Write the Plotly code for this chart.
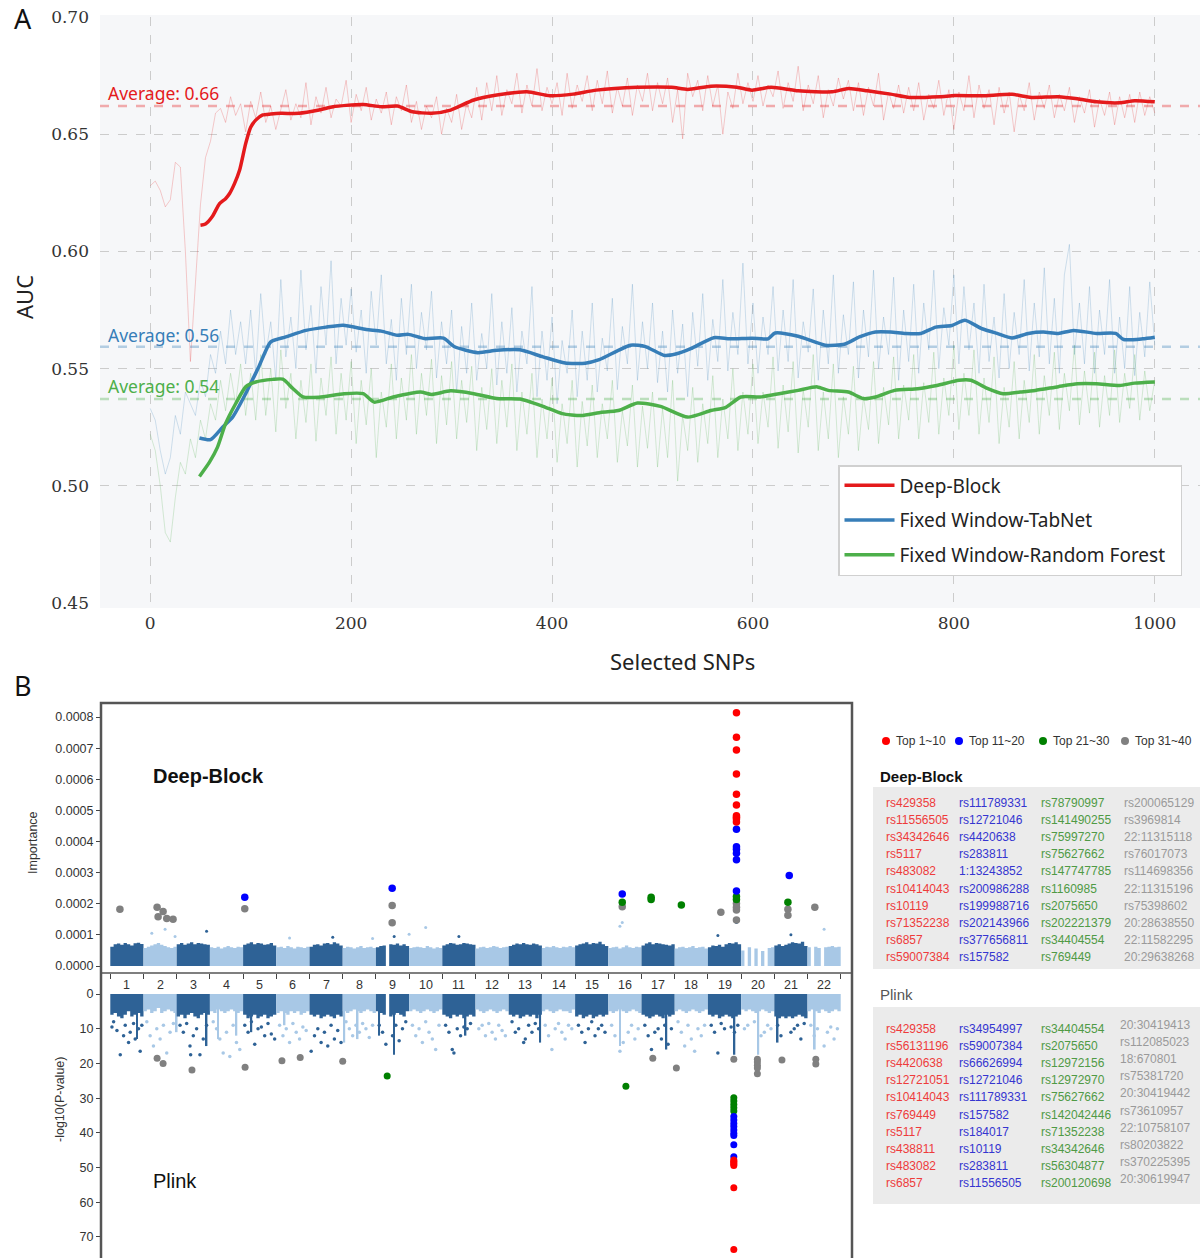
import plotly.graph_objects as go

W, H = 1200, 1258
def px(x): return x / W
def py(y): return 1 - y / H

# ---------------- Panel A data ----------------
RED, BLUE, GREEN = "#e41a1c", "#377eb8", "#4daf4a"

red_raw = [.628,.630,.626,.619,.622,.638,.636,.600,.553,.585,.620,.640,.647,.659,.661,.655,.666,.658,.663,.651,
           .664,.657,.668,.655,.662,.652,.660,.669,.656,.663,.657,.672,.654,.666,.659,.670,.657,.665,.662,.673,
           .655,.667,.660,.670,.656,.665,.659,.668,.654,.666,.660,.671,.655,.664,.652,.662,.657,.666,.650,.661,
           .655,.667,.652,.663,.657,.670,.656,.672,.660,.675,.658,.669,.663,.676,.659,.671,.662,.678,.660,.670,
           .663,.672,.658,.676,.661,.671,.664,.675,.660,.673,.663,.677,.659,.670,.662,.674,.658,.671,.664,.676,
           .660,.672,.663,.674,.655,.669,.648,.676,.666,.673,.660,.675,.662,.671,.650,.668,.661,.676,.663,.672,
           .664,.675,.662,.671,.666,.677,.661,.672,.664,.679,.660,.671,.663,.675,.657,.669,.662,.674,.665,.673,
           .660,.672,.658,.670,.662,.676,.656,.668,.661,.671,.659,.670,.660,.672,.656,.667,.661,.673,.658,.669,
           .652,.668,.660,.675,.657,.671,.661,.669,.654,.670,.659,.668,.651,.667,.660,.672,.656,.668,.661,.671,
           .657,.667,.660,.670,.655,.666,.659,.669,.653,.665,.658,.668,.654,.666,.657,.667,.655,.668,.658,.666,.659]
blue_raw = [.533,.528,.515,.505,.512,.530,.522,.540,.535,.530,.545,.538,.556,.548,.566,.552,.575,.556,.570,.552,
            .575,.548,.582,.556,.570,.545,.588,.555,.572,.550,.592,.558,.577,.548,.585,.560,.596,.552,.580,.560,
            .584,.557,.575,.548,.583,.560,.590,.552,.571,.545,.580,.556,.586,.550,.574,.558,.583,.546,.570,.552,
            .575,.540,.568,.548,.578,.545,.565,.550,.582,.543,.570,.548,.576,.540,.566,.552,.585,.538,.566,.545,
            .572,.535,.562,.548,.575,.538,.566,.545,.578,.540,.563,.549,.580,.541,.568,.552,.586,.545,.570,.550,
            .578,.544,.566,.540,.575,.548,.569,.538,.574,.551,.582,.545,.571,.553,.588,.549,.574,.556,.595,.552,
            .578,.548,.572,.556,.585,.549,.575,.553,.588,.546,.570,.557,.584,.545,.575,.552,.590,.548,.573,.556,
            .587,.546,.575,.555,.592,.550,.572,.556,.589,.545,.575,.553,.586,.548,.578,.558,.592,.550,.576,.560,
            .590,.552,.585,.558,.578,.548,.586,.553,.572,.546,.582,.550,.574,.556,.588,.549,.578,.555,.593,.552,
            .580,.548,.590,.603,.556,.578,.552,.585,.548,.575,.556,.588,.548,.572,.550,.585,.547,.574,.555,.587,.560]
green_raw = [.522,.515,.500,.480,.476,.495,.510,.505,.520,.512,.528,.520,.535,.528,.545,.532,.548,.535,.552,.530,
             .548,.528,.556,.530,.550,.523,.558,.533,.548,.520,.545,.527,.552,.519,.546,.530,.555,.522,.548,.528,
             .553,.518,.545,.526,.550,.512,.540,.525,.552,.520,.546,.528,.556,.522,.548,.530,.554,.518,.547,.526,
             .553,.520,.545,.527,.551,.515,.542,.524,.550,.518,.545,.525,.552,.515,.540,.522,.548,.512,.537,.520,
             .546,.510,.535,.518,.545,.508,.536,.517,.543,.512,.535,.520,.545,.510,.532,.517,.543,.508,.534,.516,
             .540,.508,.533,.512,.545,.502,.530,.515,.542,.510,.535,.518,.547,.512,.537,.520,.550,.515,.540,.522,
             .552,.518,.540,.525,.555,.516,.543,.523,.553,.514,.541,.525,.556,.515,.540,.520,.552,.512,.538,.522,
             .551,.515,.538,.524,.553,.518,.542,.526,.555,.520,.543,.528,.556,.520,.544,.527,.557,.522,.546,.530,
             .560,.524,.548,.530,.558,.522,.546,.527,.555,.518,.542,.525,.553,.520,.545,.527,.556,.522,.547,.530,
             .557,.524,.548,.532,.560,.526,.549,.531,.557,.525,.547,.530,.558,.527,.548,.533,.556,.528,.549,.532,.545]
raw_step = 5

red_sx = [50,55,62,69,75,79,84,89,95,100,105,112,120,130,148,168,182,195,212,230,246,261,280,299,322,345,375,398,421,444,
          485,519,535,558,584,599,618,645,679,695,714,737,756,786,801,828,858,877,904,923,942,965,980,1000]
red_sy = [.6112,.6117,.6150,.6204,.6225,.6247,.6290,.6347,.6460,.6530,.6560,.6582,.6586,.6589,.6589,.6603,.6617,.6623,.6627,.6617,
          .6620,.6596,.6589,.6603,.6646,.6667,.6681,.6664,.6671,.6688,.6700,.6700,.6691,.6705,.6700,.6688,.6700,.6685,.6681,.6695,
          .6685,.6671,.6657,.6660,.6665,.6664,.6670,.6657,.6660,.6651,.6638,.6634,.6643,.6638]
blue_sx = [49,60,72,82,95,108,120,135,155,175,192,215,230,246,257,273,292,303,326,345,368,391,413,433,447,478,493,512,523,538,
           561,577,599,615,622,645,672,691,706,722,737,752,767,782,798,811,828,843,858,874,889,904,919,942,961,969,988,1000]
blue_sy = [.5204,.5197,.5250,.5293,.5393,.5507,.5614,.5635,.5663,.5677,.5685,.5667,.5660,.5642,.5646,.5628,.5630,.5593,.5568,.5578,
           .5580,.5550,.5524,.5523,.5538,.5600,.5594,.5556,.5562,.5585,.5632,.5627,.5630,.5627,.5652,.5638,.5600,.5604,.5635,.5656,
           .5656,.5650,.5650,.5677,.5684,.5706,.5670,.5650,.5631,.5650,.5656,.5650,.5663,.5650,.5650,.5624,.5627,.5634]
green_sx = [49,59,67,75,85,95,105,122,132,142,152,168,193,212,223,242,269,280,299,322,345,368,391,410,429,447,466,485,508,535,
            558,573,588,607,626,645,664,675,695,710,722,741,764,783,805,817,832,849,866,881,904,923,942,965,980,1000]
green_sy = [.5040,.5101,.5165,.5265,.5350,.5422,.5443,.5454,.5455,.5415,.5379,.5378,.5393,.5393,.5357,.5379,.5400,.5390,.5405,.5393,
            .5372,.5370,.5339,.5308,.5300,.5312,.5321,.5353,.5339,.5293,.5321,.5335,.5379,.5379,.5393,.5407,.5422,.5407,.5400,.5372,
            .5379,.5407,.5414,.5428,.5450,.5450,.5418,.5393,.5400,.5407,.5423,.5435,.5435,.5428,.5438,.5443]

series_names = ["Deep-Block", "Fixed Window-TabNet", "Fixed Window-Random Forest"]
averages = [0.662, 0.5593, 0.5370]
avg_labels = ["Average: 0.66", "Average: 0.56", "Average: 0.54"]
avg_label_y = [0.6675, 0.5642, 0.5424]
a_xticks = [0, 200, 400, 600, 800, 1000]
a_yticks = [0.45, 0.50, 0.55, 0.60, 0.65, 0.70]

# ---------------- Panel B data ----------------
chromosomes = list(range(1, 23))
DARK, LIGHT = "#2e6296", "#a8c8e6"
# importance envelope (units of 1e-6), 10 bins per chromosome
imp_env = {
 1:[62,70,72,68,74,70,66,73,75,71], 2:[58,62,66,70,74,68,64,60,58,62], 3:[70,74,68,72,76,70,74,72,70,68],
 4:[60,58,62,56,60,64,60,58,62,60], 5:[68,72,76,70,74,72,68,70,74,66], 6:[60,62,58,64,60,56,62,60,58,62],
 7:[62,68,70,66,72,74,70,76,72,66], 8:[58,62,60,56,60,64,58,60,62,58], 9:[60,64,66,0,70,68,72,66,70,64],
 10:[58,60,62,60,58,64,60,56,60,58], 11:[66,70,74,72,68,70,74,72,70,68], 12:[56,60,62,58,60,64,62,58,60,62],
 13:[64,68,72,70,74,70,68,72,70,66], 14:[58,62,60,64,60,58,62,60,64,60], 15:[66,70,72,76,70,74,72,78,70,64],
 16:[58,60,62,56,60,66,60,58,62,60], 17:[66,72,76,70,74,72,70,68,66,70], 18:[56,60,62,58,60,64,58,60,62,56],
 19:[60,66,64,68,62,70,74,72,76,70], 20:[50,0,60,0,56,0,48,0,58,60], 21:[66,70,64,68,72,76,74,72,78,64],
 22:[60,0,62,58,0,60,62,64,60,62]}
imp_dots_x = [1.75,2.15,2.45,3.4,5.9,7.2,8.4,9.05,9.5,10.0,11.0,15.85,15.92,18.8,19.36,21.0,22.0]
imp_dots_y = [105,118,95,112,90,92,88,95,102,124,95,128,140,98,140,100,118]

imp_top1_x = [19.36]*10
imp_top1_y = [814,735,694,617,552,517,483,478,472,463]
imp_top2_x = [4.55,8.99,15.92,19.36,19.36,19.36,19.36,19.36,19.36,20.95]
imp_top2_y = [221,250,231,439,383,375,362,341,241,291]
imp_top3_x = [15.92,16.79,16.79,17.7,19.36,19.36,20.91]
imp_top3_y = [205,221,214,196,223,214,205]
imp_top4_x = [0.79,1.91,2.09,1.94,2.20,2.39,4.55,8.99,8.99,15.92,18.89,19.36,19.36,19.36,19.36,20.91,20.91,21.72]
imp_top4_y = [182,189,175,158,153,150,184,194,139,190,173,201,189,180,148,182,163,189]

# plink envelope (-log10 p), 10 bins per chromosome
pl_env = {
 1:[6.0,5.5,6.5,7.0,6.0,5.0,6.5,6.0,5.5,6.5], 2:[5.0,4.5,5.5,5.0,4.0,5.5,5.0,4.5,5.0,5.5],
 3:[6.5,6.0,7.0,6.0,5.5,6.5,7.0,6.0,5.5,6.0], 4:[5.0,5.5,4.5,5.0,5.5,5.0,4.5,5.0,5.5,5.0],
 5:[6.0,7.0,6.5,6.0,7.0,6.5,6.0,7.0,6.5,6.0], 6:[5.5,5.0,5.5,6.0,5.0,5.5,5.0,6.0,5.5,5.0],
 7:[6.0,6.5,6.0,7.0,6.5,6.0,6.5,7.0,6.0,6.5], 8:[5.0,5.5,5.0,4.5,5.0,5.5,5.0,4.5,5.0,5.5],
 9:[5.0,5.5,6.0,0.0,6.5,6.0,5.5,6.0,6.5,5.0], 10:[5.0,4.5,5.0,5.5,5.0,4.5,5.0,5.5,5.0,4.5],
 11:[6.0,6.5,7.0,6.0,6.5,6.0,7.0,6.5,6.0,6.5], 12:[4.5,5.0,5.5,5.0,4.5,5.0,5.5,5.0,4.5,5.0],
 13:[6.0,6.5,6.0,7.0,6.5,6.0,6.5,6.0,7.0,6.0], 14:[5.0,4.5,5.0,5.5,5.0,4.5,5.0,5.0,5.5,4.5],
 15:[6.5,6.0,7.0,6.5,6.0,7.0,6.5,6.0,6.5,6.0], 16:[5.0,5.5,5.0,4.5,5.0,5.5,5.0,4.5,5.0,5.5],
 17:[6.0,6.5,7.0,6.5,6.0,6.5,7.0,6.0,6.5,6.0], 18:[5.0,4.5,5.0,5.5,5.0,4.5,5.0,5.5,5.0,4.5],
 19:[6.0,6.5,6.0,7.0,6.5,6.0,6.5,7.0,6.5,6.0], 20:[4.5,5.0,4.5,5.0,5.5,5.0,4.5,5.0,5.5,5.0],
 21:[6.5,7.0,6.5,7.0,6.5,7.0,6.5,6.0,6.5,7.0], 22:[5.0,4.5,5.0,5.5,4.5,5.0,5.5,5.0,4.5,5.0]}
pl_dots = {
 1:[(0.05,9.5),(0.1,8),(0.2,10.5),(0.3,17.5),(0.4,12),(0.45,9),(0.55,14),(0.6,11),(0.7,8.5),(0.75,13),(0.85,10),(0.9,16.5),(0.95,9)],
 2:[(0.1,8),(0.2,12),(0.3,15),(0.4,10),(0.5,13),(0.6,9),(0.7,17),(0.8,11),(0.9,8.5)],
 3:[(0.1,9),(0.2,11),(0.3,8.5),(0.4,15),(0.42,17.5),(0.5,12),(0.6,10),(0.7,17.5),(0.8,13),(0.9,9)],
 4:[(0.1,8),(0.2,10),(0.3,13),(0.4,17),(0.5,11),(0.6,18),(0.7,9),(0.8,14),(0.9,16)],
 5:[(0.05,9),(0.15,11),(0.25,8),(0.35,14.5),(0.45,10),(0.55,9.5),(0.65,12),(0.75,8.5),(0.85,11.5),(0.95,13)],
 6:[(0.1,9),(0.2,12),(0.3,10),(0.4,14),(0.5,8.5),(0.6,11),(0.7,13),(0.8,9.5),(0.9,10.5)],
 7:[(0.05,16.5),(0.15,12),(0.25,10),(0.35,14),(0.45,11),(0.55,15),(0.65,9),(0.75,13),(0.85,10.5),(0.95,14)],
 8:[(0.1,8),(0.2,10),(0.3,12),(0.4,9),(0.5,11),(0.6,8.5),(0.7,10),(0.8,12.5),(0.9,9)],
 9:[(0.1,9),(0.2,11),(0.3,14.5),(0.5,12),(0.6,9),(0.7,13.5),(0.8,10),(0.9,8)],
 10:[(0.1,9),(0.2,12),(0.3,10),(0.4,14),(0.5,8),(0.6,11),(0.7,13),(0.8,16),(0.9,9)],
 11:[(0.1,9),(0.2,11),(0.3,16),(0.35,17),(0.45,10),(0.55,12),(0.65,9.5),(0.75,10),(0.85,8.5)],
 12:[(0.1,10),(0.2,9),(0.3,12),(0.4,8.5),(0.5,11),(0.6,13),(0.7,9),(0.8,10.5),(0.9,12)],
 13:[(0.1,8),(0.2,11),(0.3,10),(0.45,14),(0.5,13),(0.6,9),(0.7,11),(0.8,8.5),(0.9,10)],
 14:[(0.1,9),(0.2,12),(0.3,16),(0.4,10),(0.5,8.5),(0.6,11),(0.7,13),(0.8,9),(0.9,10)],
 15:[(0.1,9),(0.2,11),(0.3,14),(0.4,10),(0.5,8),(0.6,12),(0.7,10),(0.8,9),(0.9,11)],
 16:[(0.1,9),(0.2,12),(0.35,16.5),(0.45,14),(0.6,11),(0.7,9),(0.8,13),(0.9,10)],
 17:[(0.1,9),(0.2,12),(0.3,16),(0.4,11),(0.5,10),(0.6,13),(0.7,9),(0.8,14.5),(0.9,10)],
 18:[(0.1,8),(0.2,11),(0.3,15),(0.4,9),(0.5,13),(0.6,16.5),(0.7,10),(0.8,12),(0.9,9)],
 19:[(0.1,9),(0.2,11),(0.3,17),(0.4,8.5),(0.5,10),(0.7,9.5),(0.8,11),(0.9,9)],
 20:[(0.1,10),(0.2,9),(0.4,8),(0.6,12),(0.7,11),(0.8,9),(0.9,10)],
 21:[(0.1,9),(0.2,12),(0.5,11),(0.6,10),(0.7,9),(0.8,13),(0.9,8.5)],
 22:[(0.1,9),(0.2,12),(0.3,10),(0.5,15),(0.6,11),(0.7,9.5),(0.8,13),(0.9,10)]}
pl_spikes_x = [1.3,2.5,3.4,3.75,4.3,4.75,5.75,7.55,7.95,8.6,9.05,11.2,13.45,15.85,17.25,19.3,20.02,20.6,21.72]
pl_spikes_y = [13,11,15,13,12,11,9,14,13,12,17.5,12,14,15,16,17.5,17.5,14,16]

pl_top1_x = [19.28]*7
pl_top1_y = [47.8,48.2,48.6,49.0,49.4,55.8,73.6]
pl_top2_x = [19.28]*9
pl_top2_y = [35.3,36.3,37.3,38.2,39.2,40.1,40.8,43.4,46.9]
pl_top3_x = [8.84,16.03,19.28,19.28,19.28,19.28,19.28]
pl_top3_y = [23.6,26.6,29.9,30.8,31.8,32.8,33.7]
pl_top4_x = [1.91,2.09,2.96,4.56,5.67,6.22,7.5,16.84,17.55,19.28,19.99,19.99,19.99,19.99,19.99,20.73,21.75,21.75]
pl_top4_y = [18.5,20,21.9,21.1,19.2,18.3,19.4,18.5,21.3,18.8,18.8,19.6,20.5,21.3,23.0,19.0,18.8,20.2]

top_labels = ["Top 1~10", "Top 11~20", "Top 21~30", "Top 31~40"]
top_colors = ["#ff0000", "#0000ff", "#008000", "#808080"]
tab_colors = ["#ee3b3b", "#3535d0", "#4f9a45", "#9a9a9a"]

db_cols = [
 ["rs429358","rs11556505","rs34342646","rs5117","rs483082","rs10414043","rs10119","rs71352238","rs6857","rs59007384"],
 ["rs111789331","rs12721046","rs4420638","rs283811","1:13243852","rs200986288","rs199988716","rs202143966","rs377656811","rs157582"],
 ["rs78790997","rs141490255","rs75997270","rs75627662","rs147747785","rs1160985","rs2075650","rs202221379","rs34404554","rs769449"],
 ["rs200065129","rs3969814","22:11315118","rs76017073","rs114698356","22:11315196","rs75398602","20:28638550","22:11582295","20:29638268"]]
pl_cols = [
 ["rs429358","rs56131196","rs4420638","rs12721051","rs10414043","rs769449","rs5117","rs438811","rs483082","rs6857"],
 ["rs34954997","rs59007384","rs66626994","rs12721046","rs111789331","rs157582","rs184017","rs10119","rs283811","rs11556505"],
 ["rs34404554","rs2075650","rs12972156","rs12972970","rs75627662","rs142042446","rs71352238","rs34342646","rs56304877","rs200120698"],
 ["20:30419413","rs112085023","18:670801","rs75381720","20:30419442","rs73610957","22:10758107","rs80203822","rs370225395","20:30619947"]]

# ---------------- Figure ----------------
fig = go.Figure()
SANS = "Noto Sans"
ARIAL = "Liberation Sans"

raw_sets = [(red_raw, "rgba(228,26,28,0.22)"), (blue_raw, "rgba(55,126,184,0.22)"), (green_raw, "rgba(77,175,74,0.22)")]
for vals, c in raw_sets:
    fig.add_trace(go.Scatter(x=[i * raw_step for i in range(len(vals))], y=vals, mode="lines",
                             line=dict(color=c, width=1), showlegend=False, hoverinfo="skip",
                             xaxis="x", yaxis="y"))
for (sx, sy), c, n in zip([(red_sx, red_sy), (blue_sx, blue_sy), (green_sx, green_sy)], [RED, BLUE, GREEN], series_names):
    fig.add_trace(go.Scatter(x=sx, y=sy, mode="lines", line=dict(color=c, width=3.5, shape="spline", smoothing=0.6),
                             name=n + "\u00a0\u00a0", legendgroup=n, xaxis="x", yaxis="y"))

# Manhattan blocks (filled step areas per chromosome)
def add_blocks(env, scale, xa, ya):
    for ch in chromosomes:
        vals = [v * scale for v in env[ch]]
        xs = [ch - 0.5 + 0.1 * k for k in range(11)]
        ys = vals + [vals[-1]]
        col = DARK if ch % 2 else LIGHT
        fig.add_trace(go.Scatter(x=xs, y=ys, mode="lines", line=dict(width=0, shape="hv", color=col),
                                 fill="tozeroy", fillcolor=col, showlegend=False, hoverinfo="skip",
                                 xaxis=xa, yaxis=ya))

add_blocks(imp_env, 1e-6, "x2", "y2")
add_blocks(pl_env, 1.0, "x3", "y3")

fig.add_trace(go.Bar(x=pl_spikes_x, y=pl_spikes_y, width=0.05,
                     marker=dict(color=[DARK if round(x) % 2 else LIGHT for x in pl_spikes_x], line=dict(width=0)),
                     showlegend=False, hoverinfo="skip", xaxis="x3", yaxis="y3"))
fig.add_trace(go.Scatter(x=imp_dots_x, y=[v * 1e-6 for v in imp_dots_y], mode="markers",
                         marker=dict(size=3, color=[DARK if round(x) % 2 else LIGHT for x in imp_dots_x]),
                         showlegend=False, hoverinfo="skip", xaxis="x2", yaxis="y2"))
dx, dy = [], []
for ch in chromosomes:
    for off, v in pl_dots[ch]:
        dx.append(ch - 0.5 + off)
        dy.append(v)
fig.add_trace(go.Scatter(x=dx, y=dy, mode="markers",
                         marker=dict(size=3.5, color=[DARK if round(x) % 2 else LIGHT for x in dx]),
                         showlegend=False, hoverinfo="skip", xaxis="x3", yaxis="y3"))

for xs, ys, c in reversed([(imp_top1_x, imp_top1_y, top_colors[0]), (imp_top2_x, imp_top2_y, top_colors[1]),
                           (imp_top3_x, imp_top3_y, top_colors[2]), (imp_top4_x, imp_top4_y, top_colors[3])]):
    fig.add_trace(go.Scatter(x=xs, y=[v * 1e-6 for v in ys], mode="markers", marker=dict(size=7.5, color=c),
                             showlegend=False, xaxis="x2", yaxis="y2"))
for xs, ys, c in reversed([(pl_top1_x, pl_top1_y, top_colors[0]), (pl_top2_x, pl_top2_y, top_colors[1]),
                           (pl_top3_x, pl_top3_y, top_colors[2]), (pl_top4_x, pl_top4_y, top_colors[3])]):
    fig.add_trace(go.Scatter(x=xs, y=ys, mode="markers", marker=dict(size=7, color=c),
                             showlegend=False, xaxis="x3", yaxis="y3"))

# right-side "Top" legend row markers (drawn as real markers in paper space via a hidden axis)
fig.add_trace(go.Scatter(x=[886, 959, 1043, 1125], y=[741] * 4, mode="markers",
                         marker=dict(size=8, color=top_colors), showlegend=False, hoverinfo="skip",
                         xaxis="x4", yaxis="y4"))

serif_tick = dict(family="DejaVu Serif", size=17, color="#333")
arial_tick = dict(family=ARIAL, size=12.5, color="#333")
chr_range = [0.22, 22.84]

fig.update_layout(
    width=W, height=H, autosize=False, margin=dict(l=0, r=0, t=0, b=0, autoexpand=False),
    paper_bgcolor="white", plot_bgcolor="rgba(0,0,0,0)", barmode="overlay",
    xaxis=dict(domain=[px(100), 1.0], range=[-50, 1045], tickvals=a_xticks, ticktext=[str(v) for v in a_xticks],
               showgrid=True, gridcolor="#cccccc", griddash="dash", gridwidth=1, zeroline=False, automargin=False,
               tickfont=serif_tick, ticks="", ticklabelstandoff=8, anchor="y"),
    yaxis=dict(domain=[py(603), py(17)], range=[0.45, 0.70], tickvals=a_yticks, ticktext=[f"{v:.2f}" for v in a_yticks],
               showgrid=True, gridcolor="#cccccc", griddash="dash", gridwidth=1, zeroline=False, automargin=False,
               tickfont=serif_tick, ticks="", ticklabelstandoff=10, anchor="x"),
    xaxis2=dict(domain=[px(101), px(852)], range=chr_range, tickvals=[c + 0.5 for c in [0] + chromosomes],
                showticklabels=False, ticks="outside", ticklen=5, tickcolor="#444", showgrid=False, automargin=False,
                zeroline=False, showline=False, anchor="y2"),
    yaxis2=dict(domain=[py(973), py(703)], range=[-0.0000225, 0.000845],
                tickvals=[i * 0.0001 for i in range(9)], ticktext=[f"{i*0.0001:.4f}" for i in range(9)],
                ticks="outside", ticklen=4, tickcolor="#444", tickfont=arial_tick, showgrid=False, automargin=False,
                zeroline=False, showline=False, anchor="x2"),
    xaxis3=dict(domain=[px(101), px(852)], range=chr_range, visible=False, anchor="y3", automargin=False),
    yaxis3=dict(domain=[0, py(973)], range=[76.06, -6.05], tickvals=list(range(0, 80, 10)),
                ticks="outside", ticklen=4, tickcolor="#444", tickfont=arial_tick, showgrid=False, automargin=False,
                zeroline=False, showline=False, anchor="x3"),
    xaxis4=dict(domain=[0, 1], range=[0, W], visible=False, anchor="y4", automargin=False),
    yaxis4=dict(domain=[0, 1], range=[H, 0], visible=False, anchor="x4", automargin=False),
    legend=dict(x=px(1182), xanchor="right", y=py(465), yanchor="top", bgcolor="white",
                bordercolor="#d0d0d0", borderwidth=1.5, font=dict(family=SANS, size=19, color="#222"),
                tracegroupgap=7, itemwidth=50),
)

shapes = [
    dict(type="rect", xref="paper", yref="paper", x0=px(100), x1=1.0, y0=py(608), y1=py(15),
         fillcolor="#f6f7f9", line=dict(width=0), layer="below"),
]
for avg, c in zip(averages, ["rgba(228,26,28,0.35)", "rgba(55,126,184,0.35)", "rgba(77,175,74,0.35)"]):
    shapes.append(dict(type="line", xref="x domain", yref="y", x0=0, x1=1, y0=avg, y1=avg,
                       line=dict(color=c, width=2.5, dash="dash")))
shapes.append(dict(type="rect", xref="paper", yref="paper", x0=px(101), x1=px(852), y0=py(1262), y1=py(703),
                   line=dict(color="#555", width=2.5), fillcolor="rgba(0,0,0,0)"))
shapes.append(dict(type="line", xref="paper", yref="paper", x0=px(101), x1=px(852), y0=py(973), y1=py(973),
                   line=dict(color="#555", width=1.5)))
shapes.append(dict(type="rect", xref="paper", yref="paper", x0=px(873), x1=1.0, y0=py(969), y1=py(787),
                   fillcolor="#ebebeb", line=dict(width=0), layer="below"))
shapes.append(dict(type="rect", xref="paper", yref="paper", x0=px(873), x1=1.0, y0=py(1204), y1=py(1007),
                   fillcolor="#ebebeb", line=dict(width=0), layer="below"))
fig.update_layout(shapes=shapes)

ann = []
def A(x, y, text, size, color="#222", family=SANS, xanchor="left", yanchor="middle", **kw):
    ann.append(dict(x=px(x), y=py(y), xref="paper", yref="paper", text=text, showarrow=False,
                    font=dict(family=family, size=size, color=color), xanchor=xanchor, yanchor=yanchor, **kw))

A(12, 19, "A", 27, "#111")
A(12, 685, "B", 27, "#111")
A(682, 661, "Selected SNPs", 22, "#222", xanchor="center")
A(24, 297, "AUC", 22, "#222", xanchor="center", textangle=-90)
for lab, yv, c in zip(avg_labels, avg_label_y, [RED, BLUE, GREEN]):
    ann.append(dict(x=px(106), y=yv, xref="paper", yref="y", text=lab, showarrow=False,
                    font=dict(family=SANS, size=17.5, color=c), xanchor="left", yanchor="middle"))

A(33, 843, "Importance", 12.5, "#333", family=ARIAL, xanchor="center", textangle=-90)
A(60, 1100, "-log10(P-value)", 12.5, "#333", family=ARIAL, xanchor="center", textangle=-90)
A(151, 776, "<b>Deep-Block</b>", 20, "#111", family=ARIAL)
A(151, 1181, "Plink", 20, "#111", family=ARIAL)
for ch in chromosomes:
    ann.append(dict(x=ch, y=py(985), xref="x2", yref="paper", text=str(ch), showarrow=False,
                    font=dict(family=ARIAL, size=12.5, color="#333"), xanchor="center", yanchor="middle"))

for xdot, lab in zip([886, 959, 1043, 1125], top_labels):
    A(xdot + 8, 741, lab, 12, "#333", family=ARIAL)

A(878, 776, "<b>Deep-Block</b>", 15, "#111", family=ARIAL)
A(878, 995, "Plink", 15, "#555", family=ARIAL)
col_x = [884, 957, 1039, 1122]
for ci, col in enumerate(db_cols):
    for ri, t in enumerate(col):
        A(col_x[ci], 803 + 17.1 * ri, t, 12, tab_colors[ci], family=ARIAL)
for ci, col in enumerate(pl_cols):
    off = -4 if ci == 3 else 0
    for ri, t in enumerate(col):
        A(col_x[ci] - (4 if ci == 3 else 0), 1029 + off + 17.1 * ri, t, 12, tab_colors[ci], family=ARIAL)

fig.update_layout(annotations=ann)
fig.write_html("out.html")
